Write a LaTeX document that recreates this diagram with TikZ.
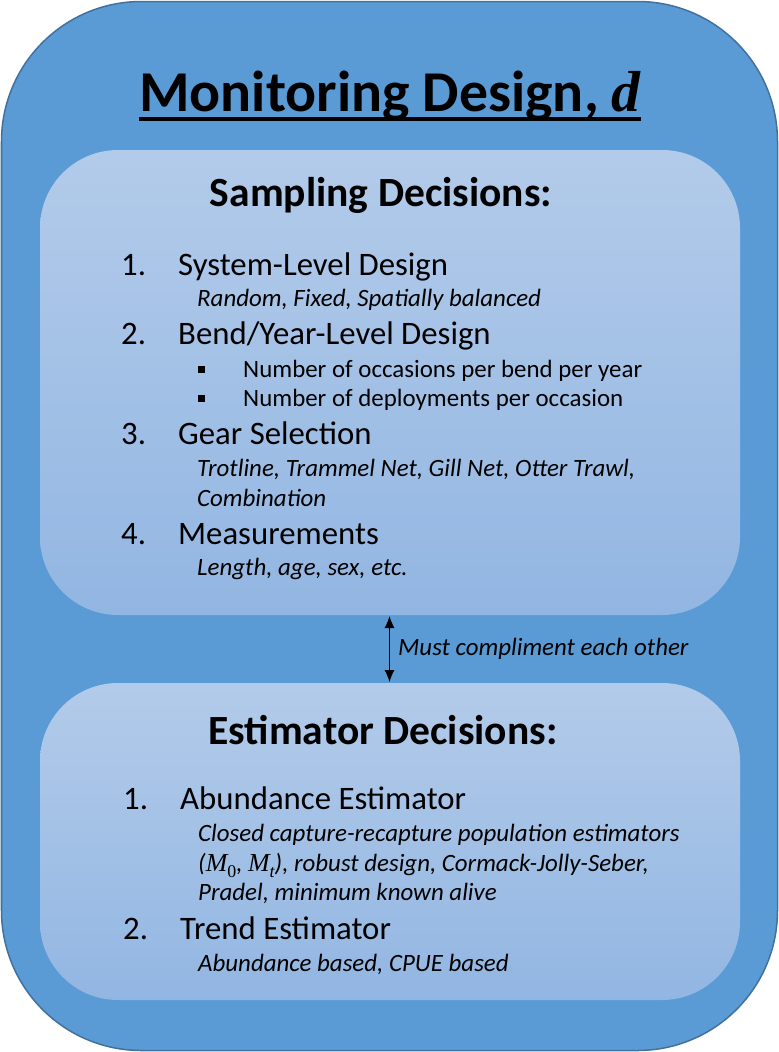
\documentclass[tikz,border=0pt]{standalone}
\usepackage{fontspec}
\setmainfont{Carlito}
\newfontfamily\mathserif{Liberation Serif}
\definecolor{obfill}{HTML}{5B9BD5}
\definecolor{obdraw}{HTML}{41719C}
\definecolor{ibtop}{HTML}{B3CBEA}
\definecolor{ibbot}{HTML}{92B6E2}
\newcommand{\mvar}[2]{{\fontsize{26}{28}\selectfont\mathserif\itshape #1}\raisebox{-0.25em}{\fontsize{18}{19}\selectfont\mathserif #2}}
\tikzset{
  outerbox/.style={fill=obfill, draw=obdraw, line width=1.5bp, rounded corners=140bp},
  innerbox/.style={top color=ibtop, bottom color=ibbot, rounded corners=78bp},
  numtext/.style={anchor=base west, inner sep=0, font=\fontsize{32.9}{36}\selectfont},
  itemtext/.style={anchor=base west, inner sep=0, font=\fontsize{32.9}{36}\selectfont},
  subtext/.style={anchor=base west, inner sep=0, font=\fontsize{25}{28}\selectfont\itshape},
  bultext/.style={anchor=base west, inner sep=0, font=\fontsize{25}{28}\selectfont},
  bulmark/.style={fill=black, inner sep=0, minimum size=7bp},
  headtext/.style={anchor=base, inner sep=0, font=\fontsize{41.7}{46}\selectfont\bfseries},
  titletext/.style={anchor=base, inner sep=0, font=\fontsize{58}{64}\selectfont\bfseries},
  linker/.style={{Latex[length=12bp,width=10bp]}-{Latex[length=12bp,width=10bp]}, line width=1bp, black},
}
\usetikzlibrary{arrows.meta}
\begin{document}
\begin{tikzpicture}[x=1bp, y=-1bp]
\useasboundingbox (0,0) rectangle (779,1052);
% outer container
\path[outerbox] (1.5,1.5) rectangle (777.5,1050.5);
% title
\node[titletext] (title) at (390,111) {Monitoring Design, {\mathserif\itshape d}};
\draw[line width=3.5bp] ([yshift=-8bp]title.base west) -- ([yshift=-8bp]title.base east);
% inner boxes
\path[innerbox] (40,150) rectangle (740,615);
\path[innerbox] (40,683) rectangle (740,1000);
\coordinate (boxAbot) at (389.5,616);
\coordinate (boxBtop) at (389.5,682);
% sampling decisions
\node[headtext] (shead) at (381,206) {Sampling Decisions:};
\node[numtext] (n1) at (121,275) {1.};
\node[itemtext] (i1) at (178,275) {System-Level Design};
\node[subtext] (s1) at (197,306.5) {Random, Fixed, Spatially balanced};
\node[numtext] (n2) at (121,344) {2.};
\node[itemtext] (i2) at (178,344) {Bend/Year-Level Design};
\node[bulmark] (b1) at (201.5,369) {};
\node[bultext] (t1) at (243,377) {Number of occasions per bend per year};
\node[bulmark] (b2) at (201.5,398) {};
\node[bultext] (t2) at (243,406) {Number of deployments per occasion};
\node[numtext] (n3) at (121,444) {3.};
\node[itemtext] (i3) at (178,444) {Gear Selection};
\node[subtext] (s3a) at (197,476.5) {Trotline, Trammel Net, Gill Net, Otter Trawl,};
\node[subtext] (s3b) at (197,506.5) {Combination};
\node[numtext] (n4) at (121,544) {4.};
\node[itemtext] (i4) at (178,544) {Measurements};
\node[subtext] (s4) at (197,575) {Length, age, sex, etc.};
% link
\draw[linker] (boxAbot) -- (boxBtop);
\node[subtext] (link) at (398,655) {Must compliment each other};
% estimator decisions
\node[headtext] (ehead) at (383,744) {Estimator Decisions:};
\node[numtext] (m1) at (123,809) {1.};
\node[itemtext] (j1) at (180,809) {Abundance Estimator};
\node[subtext] (r1a) at (198,841) {Closed capture-recapture population estimators};
\node[subtext] (r1b) at (198,871) {(\mvar{M}{\upshape 0}, \mvar{M}{\itshape t}), robust design, Cormack-Jolly-Seber,};
\node[subtext] (r1c) at (198,900) {Pradel, minimum known alive};
\node[numtext] (m2) at (123,939) {2.};
\node[itemtext] (j2) at (180,939) {Trend Estimator};
\node[subtext] (r2) at (198,971.5) {Abundance based, CPUE based};
\end{tikzpicture}
\end{document}
